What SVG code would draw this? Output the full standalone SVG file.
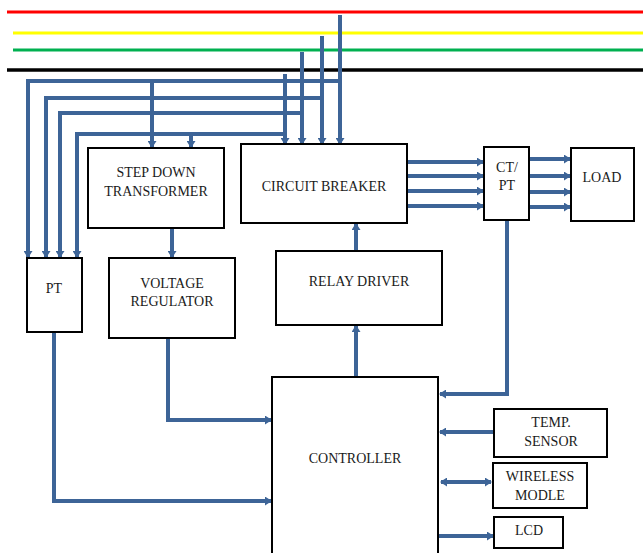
<svg xmlns="http://www.w3.org/2000/svg" width="643" height="553" viewBox="0 0 643 553">
<defs>
<style>
.box{fill:#fff;stroke:#000;stroke-width:2}
.t{font-family:"Liberation Serif","DejaVu Serif",serif;font-size:14px;fill:#1a1a1a;text-anchor:middle}
.c{fill:none;stroke:#3d6497;stroke-width:4;stroke-linejoin:miter}
.a{marker-end:url(#ah)}
.b{marker-start:url(#ahs);marker-end:url(#ah)}
</style>
<marker id="ah" markerUnits="userSpaceOnUse" markerWidth="8" markerHeight="9" refX="6" refY="4.5" orient="auto">
<path d="M0,0 L7,4.5 L0,9 Z" fill="#3d6497"/>
</marker>
<marker id="ahs" markerUnits="userSpaceOnUse" markerWidth="8" markerHeight="9" refX="1" refY="4.5" orient="auto">
<path d="M7,0 L0,4.5 L7,9 Z" fill="#3d6497"/>
</marker>
</defs>
<g id="busbars">
<line x1="7" y1="12" x2="643" y2="12" stroke="#ff0000" stroke-width="3"/>
<line x1="13" y1="33" x2="643" y2="33" stroke="#ffff00" stroke-width="3"/>
<line x1="13" y1="50" x2="643" y2="50" stroke="#00b050" stroke-width="3"/>
<line x1="7" y1="70" x2="643" y2="70" stroke="#000" stroke-width="3.5"/>
</g>
<g id="connectors">
<path class="c a" d="M340,15 V144"/>
<path class="c a" d="M322,36 V144"/>
<path class="c a" d="M302,52 V144"/>
<path class="c a" d="M285,74 V144"/>
<path class="c a" d="M340,81 H28 V257"/>
<path class="c a" d="M322,98 H46 V257"/>
<path class="c a" d="M302,113 H60 V257"/>
<path class="c a" d="M285,134 H77 V257"/>
<path class="c a" d="M152,81 V147"/>
<path class="c a" d="M191,134 V147"/>
<path class="c a" d="M407,162 H483"/>
<path class="c a" d="M407,176 H483"/>
<path class="c a" d="M407,191 H483"/>
<path class="c a" d="M407,206 H483"/>
<path class="c a" d="M529,159 H570"/>
<path class="c a" d="M529,176 H570"/>
<path class="c a" d="M529,192 H570"/>
<path class="c a" d="M529,207 H570"/>
<path class="c a" d="M172,228 V257"/>
<path class="c a" d="M356,251 V224"/>
<path class="c a" d="M356,377 V326"/>
<path class="c a" d="M507,220 V394 H440"/>
<path class="c a" d="M494,432 H440"/>
<path class="c b" d="M441,482 H491"/>
<path class="c a" d="M439,536 H493"/>
<path class="c a" d="M168,339 V420 H271"/>
<path class="c a" d="M54,333 V501 H271"/>
</g>
<g id="step-down-transformer">
<rect class="box" x="88" y="148" width="136" height="80"/>
<text class="t" x="156" y="177" font-family="Liberation Serif, serif">STEP DOWN</text>
<text class="t" x="156" y="196" font-family="Liberation Serif, serif">TRANSFORMER</text>
</g>
<g id="circuit-breaker">
<rect class="box" x="241" y="144" width="166" height="79"/>
<text class="t" x="324" y="191" font-family="Liberation Serif, serif">CIRCUIT BREAKER</text>
</g>
<g id="pt">
<rect class="box" x="27" y="258" width="55" height="74"/>
<text class="t" x="54" y="293" font-family="Liberation Serif, serif">PT</text>
</g>
<g id="voltage-regulator">
<rect class="box" x="109" y="258" width="126" height="80"/>
<text class="t" x="172" y="288" font-family="Liberation Serif, serif">VOLTAGE</text>
<text class="t" x="172" y="306" font-family="Liberation Serif, serif">REGULATOR</text>
</g>
<g id="relay-driver">
<rect class="box" x="276" y="251" width="166" height="74"/>
<text class="t" x="359" y="286" font-family="Liberation Serif, serif">RELAY DRIVER</text>
</g>
<g id="ct-pt">
<rect class="box" x="484" y="147" width="45" height="73"/>
<text class="t" x="507" y="172" font-family="Liberation Serif, serif">CT/</text>
<text class="t" x="507" y="190" font-family="Liberation Serif, serif">PT</text>
</g>
<g id="load">
<rect class="box" x="571" y="148" width="63" height="73"/>
<text class="t" x="602" y="182" font-family="Liberation Serif, serif">LOAD</text>
</g>
<g id="controller">
<rect class="box" x="272" y="377" width="166" height="190"/>
<text class="t" x="355" y="463" font-family="Liberation Serif, serif">CONTROLLER</text>
</g>
<g id="temp-sensor">
<rect class="box" x="494" y="409" width="113" height="48"/>
<text class="t" x="551" y="427" font-family="Liberation Serif, serif">TEMP.</text>
<text class="t" x="551" y="446" font-family="Liberation Serif, serif">SENSOR</text>
</g>
<g id="wireless-module">
<rect class="box" x="493" y="463" width="94" height="45"/>
<text class="t" x="540" y="481" font-family="Liberation Serif, serif">WIRELESS</text>
<text class="t" x="540" y="500" font-family="Liberation Serif, serif">MODLE</text>
</g>
<g id="lcd">
<rect class="box" x="494" y="517" width="69" height="31"/>
<text class="t" x="529" y="535" font-family="Liberation Serif, serif">LCD</text>
</g>
</svg>
